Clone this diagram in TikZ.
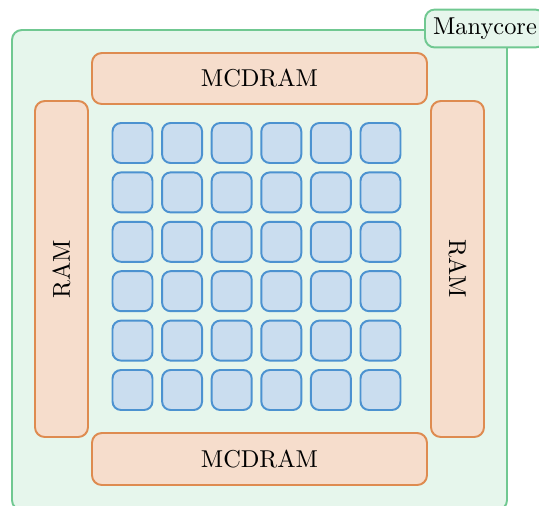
\documentclass[tikz,border=0pt]{standalone}
\usepackage{tikz}
\usetikzlibrary{positioning}

\definecolor{chipline}{RGB}{112,200,145}
\definecolor{chipfill}{RGB}{230,246,236}
\definecolor{memline}{RGB}{222,139,80}
\definecolor{memfill}{RGB}{246,221,204}
\definecolor{coreline}{RGB}{76,146,208}
\definecolor{corefill}{RGB}{202,221,239}

\tikzset{
  chipbox/.style={draw=chipline, fill=chipfill, line width=0.8pt, rounded corners=4pt},
  membox/.style={draw=memline, fill=memfill, line width=0.8pt, rounded corners=4pt},
  corebox/.style={draw=coreline, fill=corefill, line width=0.8pt, rounded corners=3.5pt,
    minimum width=40*0.41pt, minimum height=40*0.41pt, inner sep=0pt},
}

\begin{document}
\begin{tikzpicture}[x=0.41pt, y=-0.41pt]
			\useasboundingbox (0,0) rectangle (539,506);
			% the chip
			\node[chipbox, minimum width=495*0.41pt, minimum height=480*0.41pt] (chip) at (259.5,270) {};
			\node[chipbox] (chiplabel) at (485,28.5) {Manycore};
			% memories round the cores
			\node[membox, minimum width=335*0.41pt, minimum height=51*0.41pt] (mctop) at (259.5,78.5) {MCDRAM};
			\node[membox, minimum width=335*0.41pt, minimum height=52*0.41pt] (mcbot) at (259.5,459) {MCDRAM};
			\node[membox, minimum width=53*0.41pt, minimum height=336*0.41pt] (ramleft) at (61.5,269) {};
			\node[rotate=90] at (ramleft) {RAM};
			\node[membox, minimum width=53*0.41pt, minimum height=336*0.41pt] (ramright) at (457.5,269) {};
			\node[rotate=-90] at (ramright) {RAM};
			% 6x6 cores
			\foreach \i in {0,...,5}
				\foreach \j in {0,...,5}
					\node[corebox] (core-\i-\j) at (132.5+49.6*\i, 143+49.4*\j) {};
		\end{tikzpicture}
\end{document}
